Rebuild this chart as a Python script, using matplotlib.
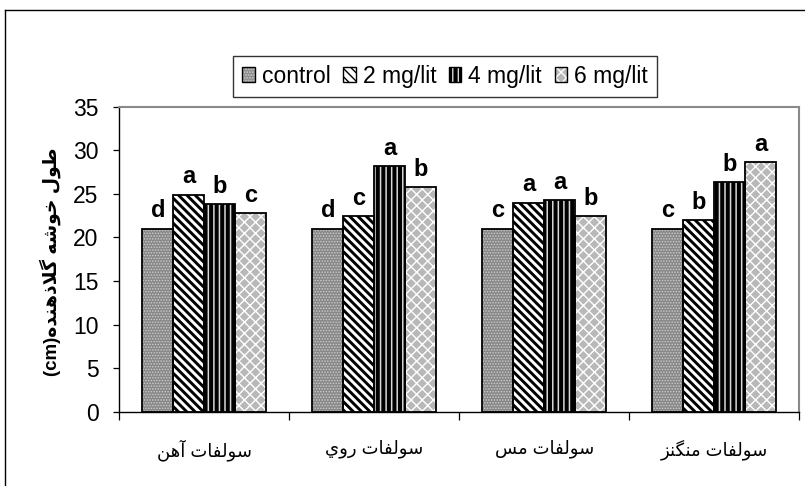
import matplotlib
matplotlib.use("Agg")
import matplotlib.pyplot as plt
import numpy as np
from matplotlib.lines import Line2D
from matplotlib.patches import Patch
from matplotlib.legend_handler import HandlerTuple

# ── data ──────────────────────────────────────────────
groups = ["سولفات آهن", "سولفات روي", "سولفات مس", "سولفات منگنز"]
series = ["control", "2 mg/lit", "4 mg/lit", "6 mg/lit"]
control = [21.0, 21.0, 21.0, 21.0]
mg2 = [24.9, 22.4, 24.0, 22.0]
mg4 = [23.8, 28.2, 24.3, 26.3]
mg6 = [22.8, 25.8, 22.4, 28.6]
letters_control = ["d", "d", "c", "c"]
letters_mg2 = ["a", "c", "a", "b"]
letters_mg4 = ["b", "a", "a", "b"]
letters_mg6 = ["c", "b", "b", "a"]
ylabel_text = "طول خوشه گلاذهنده"
yticks = [0, 5, 10, 15, 20, 25, 30, 35]

# ── minimal Arabic/Persian shaping (matplotlib has none) ──
DUAL = {
    "ت": "\uFE95\uFE96\uFE97\uFE98", "خ": "\uFEA5\uFEA6\uFEA7\uFEA8",
    "س": "\uFEB1\uFEB2\uFEB3\uFEB4", "ش": "\uFEB5\uFEB6\uFEB7\uFEB8",
    "ط": "\uFEC1\uFEC2\uFEC3\uFEC4", "ف": "\uFED1\uFED2\uFED3\uFED4",
    "ل": "\uFEDD\uFEDE\uFEDF\uFEE0", "م": "\uFEE1\uFEE2\uFEE3\uFEE4",
    "ن": "\uFEE5\uFEE6\uFEE7\uFEE8", "ه": "\uFEE9\uFEEA\uFEEB\uFEEC",
    "ي": "\uFEF1\uFEF2\uFEF3\uFEF4", "گ": "\uFB92\uFB93\uFB94\uFB95",
}
RIGHT = {
    "ا": "\uFE8D\uFE8E", "آ": "\uFE81\uFE82", "د": "\uFEA9\uFEAA",
    "ذ": "\uFEAB\uFEAC", "ر": "\uFEAD\uFEAE", "ز": "\uFEAF\uFEB0",
    "و": "\uFEED\uFEEE",
}
LAM_ALEF = {"ا": "\uFEFB\uFEFC", "آ": "\uFEF5\uFEF6"}


def shape_rtl(text):
    toks = []
    i = 0
    while i < len(text):
        c = text[i]
        if c == "ل" and i + 1 < len(text) and text[i + 1] in LAM_ALEF:
            toks.append(("LA", text[i + 1]))
            i += 2
        else:
            toks.append(("C", c))
            i += 1

    def joins_next(t):
        return t[0] == "C" and t[1] in DUAL

    def joins_prev(t):
        return t[0] == "LA" or t[1] in DUAL or t[1] in RIGHT

    out = []
    for k, t in enumerate(toks):
        prev = toks[k - 1] if k > 0 else None
        nxt = toks[k + 1] if k + 1 < len(toks) else None
        cp = prev is not None and joins_next(prev) and joins_prev(t)
        cn = nxt is not None and joins_next(t) and joins_prev(nxt)
        if t[0] == "LA":
            out.append(LAM_ALEF[t[1]][1 if cp else 0])
        elif t[1] in DUAL:
            f = DUAL[t[1]]
            out.append(f[3] if cp and cn else f[1] if cp else f[2] if cn else f[0])
        elif t[1] in RIGHT:
            out.append(RIGHT[t[1]][1 if cp else 0])
        else:
            out.append(t[1])
    return "".join(out)[::-1]


plt.rcParams["font.family"] = ["Liberation Sans", "DejaVu Sans"]

# ── figure ────────────────────────────────────────────
fig = plt.figure(figsize=(8.05, 4.86), dpi=100)
ax = fig.add_axes([0.1482, 0.1529, 0.8447, 0.6276])

x = np.arange(len(groups))
w = 0.182
styles = [
    # face, hatch, hatch colour, hatch lw
    ("#888888", "......", "#cccccc", 0.7),
    ("#ffffff", "\\\\\\\\", "#000000", 2.1),
    ("#000000", "|||", "#d8d8d8", 1.1),
    ("#b8b8b8", "xxx", "#ffffff", 1.0),
]
values = [control, mg2, mg4, mg6]
letters = [letters_control, letters_mg2, letters_mg4, letters_mg6]

handles = []
for i, (vals, labs, st) in enumerate(zip(values, letters, styles)):
    face, hatch, hcol, hlw = st
    pos = x + (i - 1.5) * w
    bars = ax.bar(pos, vals, w, color=face, hatch=hatch,
                  edgecolor=hcol, linewidth=0, zorder=2)
    for b in bars:
        b.set_hatch_linewidth(hlw)
    ax.bar(pos, vals, w, fill=False, edgecolor="black", linewidth=1.3, zorder=3)
    for xp, v, lab in zip(pos, vals, labs):
        ax.annotate(lab, (xp, v), xytext=(0, 4.5), textcoords="offset points",
                    ha="center", va="bottom", fontsize=17, fontweight="bold")
    hp = Patch(facecolor=face, hatch=hatch, edgecolor=hcol, linewidth=0)
    hp.set_hatch_linewidth(hlw * 0.7)
    ho = Patch(fill=False, edgecolor="black", linewidth=1.0)
    handles.append((hp, ho))

ax.set_xlim(-0.5, len(groups) - 0.5)
ax.set_ylim(0, 35)
ax.set_yticks(yticks)
ax.tick_params(axis="y", direction="out", length=4.3, width=0.9, pad=10.5,
               labelsize=16.5)
ax.set_xticks(np.arange(len(groups) + 1) - 0.5)
ax.set_xticklabels([])
ax.tick_params(axis="x", which="major", direction="out", length=5.5, width=0.9)
ax.set_xticks(x, minor=True)
ax.set_xticklabels([shape_rtl(g) for g in groups], minor=True)
ax.tick_params(axis="x", which="minor", length=0, pad=20, labelsize=13)

for s in ["left", "bottom"]:
    ax.spines[s].set_color("black")
    ax.spines[s].set_linewidth(1.0)
for s in ["top", "right"]:
    ax.spines[s].set_color("#8a8a8a")
    ax.spines[s].set_linewidth(1.5)

fig.text(0.062, 0.461, "(cm)" + shape_rtl(ylabel_text), rotation=90,
         ha="center", va="center", fontsize=13.5, fontweight="bold")

leg = fig.legend(handles, series, loc="center", bbox_to_anchor=(0.5528, 0.843),
                 ncol=4, fontsize=16.5, frameon=True, fancybox=False,
                 handler_map={tuple: HandlerTuple(ndivide=1)},
                 handlelength=0.55, handleheight=0.6, handletextpad=0.3,
                 columnspacing=0.55, borderpad=0.4, borderaxespad=0)
leg.get_frame().set_edgecolor("black")
leg.get_frame().set_linewidth(1.0)

# outer frame (left and top edges only)
fig.add_artist(Line2D([0.0062, 0.0062], [0, 0.9794], transform=fig.transFigure,
                      color="black", linewidth=1.0))
fig.add_artist(Line2D([0.0062, 1.0], [0.9794, 0.9794], transform=fig.transFigure,
                      color="black", linewidth=1.0))

fig.savefig("out.png", dpi=100)
